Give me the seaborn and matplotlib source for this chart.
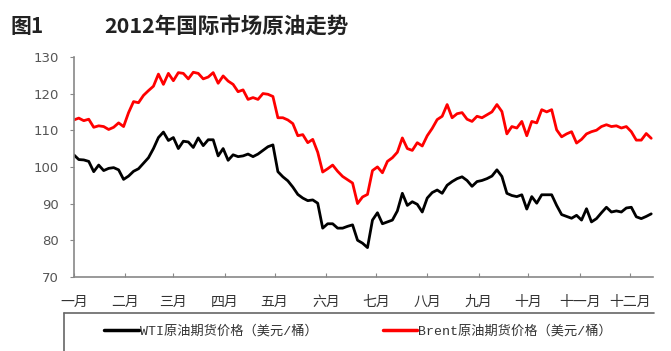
import numpy as np
import pandas as pd
import matplotlib
matplotlib.use("Agg")
import matplotlib.pyplot as plt
import seaborn as sns
from matplotlib.lines import Line2D

# 每 3 天取一个点（从 1 月 1 日起）
brent = [112.8, 113.3, 112.6, 113.0, 110.8, 111.2, 111.0, 110.2, 110.8, 112.0,
         111.0, 114.8, 117.8, 117.5, 119.5, 120.8, 122.0, 125.3, 122.5, 125.5,
         123.5, 125.7, 125.5, 124.0, 125.8, 125.5, 124.0, 124.5, 125.7, 122.8,
         124.8, 123.4, 122.5, 120.5, 121.0, 118.4, 118.9, 118.4, 120.0, 119.8,
         119.2, 113.4, 113.4, 112.8, 111.8, 108.5, 108.8, 106.6, 107.5, 104.0,
         98.6, 99.5, 100.5, 98.8, 97.4, 96.5, 95.6, 90.0, 91.8, 92.5,
         99.0, 100.0, 98.4, 101.5, 102.5, 104.0, 107.9, 105.0, 104.5, 106.6,
         105.7, 108.5, 110.5, 112.9, 113.8, 117.0, 113.4, 114.5, 114.8, 113.0,
         112.4, 113.8, 113.4, 114.2, 115.0, 117.0, 115.1, 109.0, 111.0, 110.6,
         112.4, 108.5, 112.4, 112.0, 115.6, 115.0, 115.6, 110.1, 108.2, 109.0,
         109.6, 106.5, 107.5, 109.0, 109.6, 110.0, 111.0, 111.5, 111.0, 111.2,
         110.6, 111.0, 109.6, 107.3, 107.3, 109.1, 107.8]

wti = [103.3, 102.0, 101.9, 101.5, 98.7, 100.5, 99.0, 99.6, 99.8, 99.2,
       96.6, 97.5, 98.8, 99.5, 101.0, 102.5, 105.0, 108.0, 109.5, 107.2,
       108.0, 105.0, 107.0, 106.8, 105.3, 107.9, 105.8, 107.4, 107.4, 103.0,
       105.0, 101.8, 103.3, 102.8, 103.0, 103.5, 102.8, 103.5, 104.5, 105.5,
       106.0, 98.7, 97.3, 96.2, 94.5, 92.5, 91.5, 90.8, 91.0, 90.1,
       83.3, 84.5, 84.5, 83.3, 83.3, 83.8, 84.2, 80.0, 79.2, 78.0,
       85.5, 87.5, 84.5, 85.0, 85.5, 88.0, 92.8, 89.5, 90.5, 89.8,
       87.7, 91.5, 93.0, 93.7, 92.8, 95.0, 96.0, 96.8, 97.3, 96.3,
       94.7, 96.0, 96.3, 96.8, 97.5, 99.2, 97.4, 92.8, 92.2, 91.9,
       92.4, 88.5, 91.9, 90.1, 92.4, 92.4, 92.4, 89.5, 87.0, 86.5,
       86.0, 86.8, 85.5, 88.6, 85.0, 85.9, 87.5, 89.0, 87.7, 88.0,
       87.7, 88.8, 89.0, 86.4, 85.9, 86.5, 87.2]

months = ["一月", "二月", "三月", "四月", "五月", "六月",
          "七月", "八月", "九月", "十月", "十一月", "十二月"]

start = pd.Timestamp("2012-01-01")
dates = pd.date_range(start, periods=len(brent), freq="3D")
df = pd.DataFrame({"date": np.concatenate([dates, dates]),
                   "price": wti + brent,
                   "series": ["WTI"] * len(wti) + ["Brent"] * len(brent)})

sns.set_style("ticks")
plt.rcParams["font.family"] = ["DejaVu Sans", "Noto Sans CJK SC"]

fig = plt.figure(figsize=(6.71, 3.51), dpi=100)
ax = fig.add_axes([0.110, 0.211, 0.863, 0.627])

sns.lineplot(data=df, x="date", y="price", hue="series",
             palette={"WTI": "black", "Brent": "#ff0000"},
             linewidth=2.0, legend=False, ax=ax)

ax.set_xlim(start, start + pd.Timedelta(days=349))
ax.set_ylim(70, 130)
ax.set_yticks(range(70, 131, 10))
month_starts = pd.date_range("2012-01-01", periods=12, freq="MS")
ax.set_xticks(month_starts)
ax.set_xticklabels(months, family=["Noto Sans CJK SC"], fontsize=10, color="#333333")
ax.set_xlabel("")
ax.set_ylabel("")
ax.tick_params(axis="y", labelsize=9.5, labelcolor="#555555", color="#888888",
               length=3, direction="out", pad=8)
ax.tick_params(axis="x", color="#888888", length=3, direction="in", pad=13)
for s in ["top", "right"]:
    ax.spines[s].set_visible(False)
for s in ["left", "bottom"]:
    ax.spines[s].set_color("#888888")
    ax.spines[s].set_linewidth(1.2)

# 标题
fig.text(0.015, 0.925, "图1", fontsize=15, fontweight="bold",
         family=["Noto Sans CJK SC"], color="#222222", va="center")
fig.text(0.155, 0.925, "2012年国际市场原油走势", fontsize=15.5, fontweight="bold",
         family=["Noto Sans CJK SC"], color="#222222", va="center")

# 图例框（上边线与左边线）
fig.add_artist(Line2D([0.095, 0.975], [1 - 313 / 351] * 2, color="#666666", lw=1.2))
fig.add_artist(Line2D([0.095, 0.095], [1 - 313 / 351, 0.0], color="#666666", lw=1.2))

handles = [Line2D([], [], color="black", lw=2.5),
           Line2D([], [], color="#ff0000", lw=2.5)]
labels = ["WTI原油期货价格（美元/桶）", "Brent原油期货价格（美元/桶）"]
fig.legend(handles, labels, ncol=2, frameon=False, loc="center left",
           bbox_to_anchor=(0.138, 1 - 331 / 351), handlelength=2.6,
           handletextpad=0.1, columnspacing=4.9,
           prop={"family": ["Liberation Mono", "Noto Sans CJK SC"], "size": 9.5},
           labelcolor="#333333")

fig.savefig("out.png", dpi=100)
